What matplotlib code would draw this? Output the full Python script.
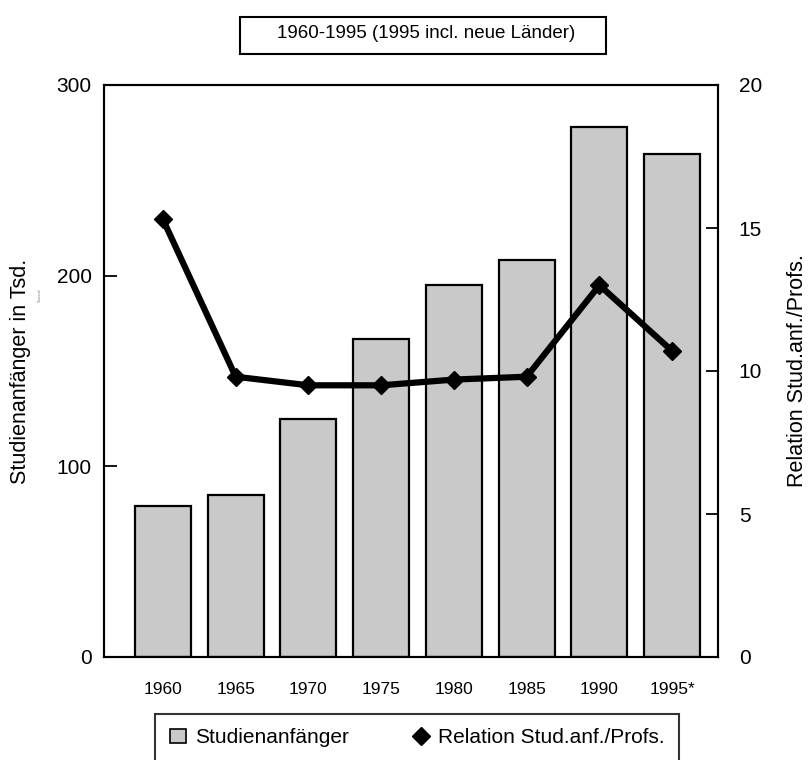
import matplotlib
matplotlib.use('Agg')
import matplotlib.pyplot as plt
from matplotlib.patches import Rectangle, Patch
from matplotlib.lines import Line2D

plt.rcParams['font.family'] = ['Liberation Sans', 'DejaVu Sans']

years = ['1960', '1965', '1970', '1975', '1980', '1985', '1990', '1995*']
anfaenger = [79, 85, 125, 167, 195, 208, 278, 264]          # Studienanfänger in Tsd.
relation = [15.3, 9.8, 9.5, 9.5, 9.7, 9.8, 13.0, 10.7]       # Stud.anf. je Prof.

W, H = 808, 760
fig = plt.figure(figsize=(W / 100, H / 100), dpi=100)
ax = fig.add_axes([104 / W, 1 - 657 / H, (718 - 104) / W, (657 - 85) / H])

x = list(range(len(years)))
ax.bar(x, anfaenger, width=0.77, color='#c9c9c9', edgecolor='black', linewidth=1.6, zorder=2)
ax.set_xlim(-0.81, 7.63)
ax.set_ylim(0, 300)
ax.set_yticks([0, 100, 200, 300])
ax.set_xticks(x)
ax.set_xticklabels(years, fontsize=12.5)
ax.tick_params(axis='x', direction='in', length=8, width=1.3, pad=18)
ax.tick_params(axis='y', direction='in', length=9, width=1.3, pad=9, labelsize=15)
ax.set_ylabel('Studienanfänger in Tsd.', fontsize=15.5, labelpad=18)
for s in ax.spines.values():
    s.set_linewidth(1.5)

ax2 = ax.twinx()
ax2.plot(x, relation, color='black', linewidth=4.5, marker='D', markersize=9, zorder=3)
ax2.set_ylim(0, 20)
ax2.set_yticks([0, 5, 10, 15, 20])
ax2.tick_params(axis='y', direction='in', length=9, width=1.3, pad=15, labelsize=15)
ax2.set_ylabel('Relation Stud.anf./Profs.', fontsize=15.5, labelpad=18)
for s in ax2.spines.values():
    s.set_linewidth(1.5)

# tiny scanned note under the left axis label
fig.text(40 / W, 1 - 295 / H, 'Tausend', rotation=90, fontsize=2.5, color='#777777',
         ha='center', va='center')

# title box
fig.patches.append(Rectangle((240 / W, 1 - 54 / H), (606 - 240) / W, 37 / H,
                             transform=fig.transFigure, fill=False,
                             edgecolor='black', linewidth=1.5))
fig.text(426 / W, 1 - 33 / H, '1960-1995 (1995 incl. neue Länder)', fontsize=13.5,
         ha='center', va='center')

# legend
handles = [Patch(facecolor='#c9c9c9', edgecolor='black', linewidth=1.2),
           Line2D([], [], color='black', marker='D', markersize=9, linestyle='none')]
leg = fig.legend(handles, ['Studienanfänger', 'Relation Stud.anf./Profs.'],
                 loc='lower left', bbox_to_anchor=(155 / W, -2 / H, (679 - 155) / W, 48 / H),
                 mode='expand', ncol=2, fontsize=15, frameon=True, fancybox=False,
                 borderpad=0.7, borderaxespad=0, handlelength=0.8, handletextpad=0.4,
                 columnspacing=3)
leg.get_frame().set_edgecolor('black')
leg.get_frame().set_linewidth(1.5)

fig.savefig('out.png', dpi=100)
